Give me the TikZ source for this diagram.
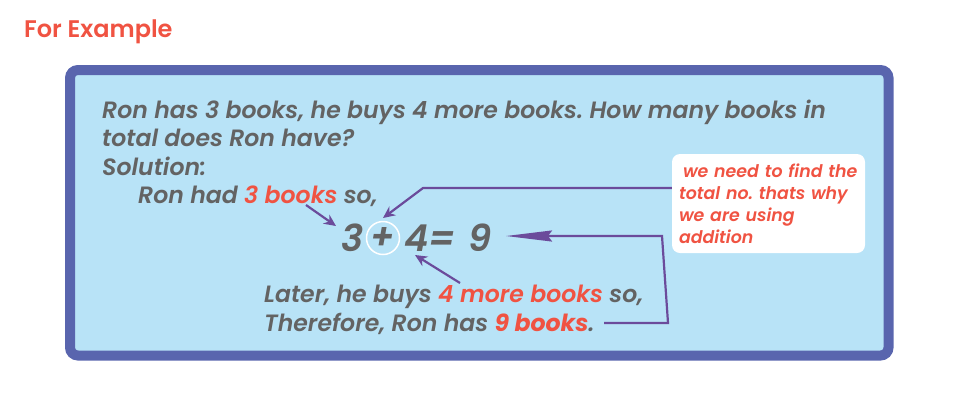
\documentclass[tikz,border=0pt]{standalone}
\usepackage{fontspec}
\setmainfont{Poppins}[FontFace={sb}{n}{Poppins SemiBold}, FontFace={sb}{it}{Poppins SemiBold Italic}, FontFace={b}{it}{Poppins Bold Italic}]
\usetikzlibrary{arrows.meta}
\definecolor{frame}{RGB}{89,101,174}
\definecolor{panel}{RGB}{184,227,247}
\definecolor{txt}{RGB}{99,99,99}
\definecolor{hl}{RGB}{240,83,66}
\definecolor{arr}{RGB}{107,75,155}
\newcommand\sbit{\fontseries{sb}\itshape}
\newcommand\hlt[1]{\textcolor{hl}{#1}}
\frenchspacing
\begin{document}
\begin{tikzpicture}[x=1pt,y=-1pt,
  txtline/.style={anchor=base west, inner sep=0pt, text=txt, font=\fontsize{23.6}{29}\selectfont\sbit},
  eqn/.style={anchor=base west, inner sep=0pt, text=txt, font=\fontsize{37}{40}\selectfont\sbit},
  conn/.style={draw=arr, line width=2.2pt, line join=miter, -{Stealth[length=12pt,width=11pt]}}]
\useasboundingbox (0,0) rectangle (960,400);
% title
\node[anchor=base west, inner sep=0pt, text=hl, font=\fontsize{24}{26}\selectfont\fontseries{sb}\upshape] (title) at (24,37) {For Example};
% panel
\draw[draw=frame, fill=panel, line width=10pt, rounded corners=8pt] (70,70) rectangle (888.5,355.5);
% problem text
\node[txtline] (l1) at (102,118) {Ron has 3 books, he buys 4 more books. How many books in};
\node[txtline] (l2) at (102,146) {total does Ron have?};
\node[txtline] (l3) at (102,175) {Solution:};
\node[txtline] (l4) at (138,203) {Ron had \hlt{3 books} so,};
% equation
\node[eqn] (n3) at (341,251) {3};
\draw[white, line width=1.5pt] (383,238) circle (16.5);
\node[eqn, anchor=center] (plus) at (383,238) {\fontsize{36}{36}\selectfont+};
\node[eqn] (n4) at (404,251) {4=};
\node[eqn] (n9) at (468,251) {9};
% later lines
\node[txtline] (l5) at (264,302) {Later, he buys \hlt{4 more books} so,};
\node[txtline] (l6) at (264,331) {Therefore, Ron has \hlt{\fontseries{b}\selectfont 9 books}.};
% callout
\node[draw=none, fill=white, rounded corners=8pt, minimum width=193pt, minimum height=99pt, inner sep=7pt, text width=179pt, align=left, text=hl, font=\fontsize{17.4}{22}\selectfont\fontseries{sb}\itshape] (call) at (768.5,203.5)
  {\hspace{4pt}we need to find the\\total no. thats why\\we are using\\addition};
% connectors
\coordinate (a1s) at (306,205);
\coordinate (a1e) at (336,226);
\draw[conn] (a1s) -- (a1e);
\coordinate (a2m) at (423,188);
\coordinate (a2e) at (383,218);
\draw[conn] (call.west |- 0,188) -- (a2m) -- (a2e);
\coordinate (a3s) at (460,283);
\coordinate (a3e) at (415,255);
\draw[conn] (a3s) -- (a3e);
\coordinate (a4s) at (604,323);
\coordinate (a4b) at (668,323);
\coordinate (a4c) at (662,236);
\coordinate (a4e) at (506,236);
\draw[conn, -{Stealth[length=46pt,width=11pt,inset=4pt]}] (a4s) -- (a4b) -- (a4c) -- (a4e);
\end{tikzpicture}
\end{document}
